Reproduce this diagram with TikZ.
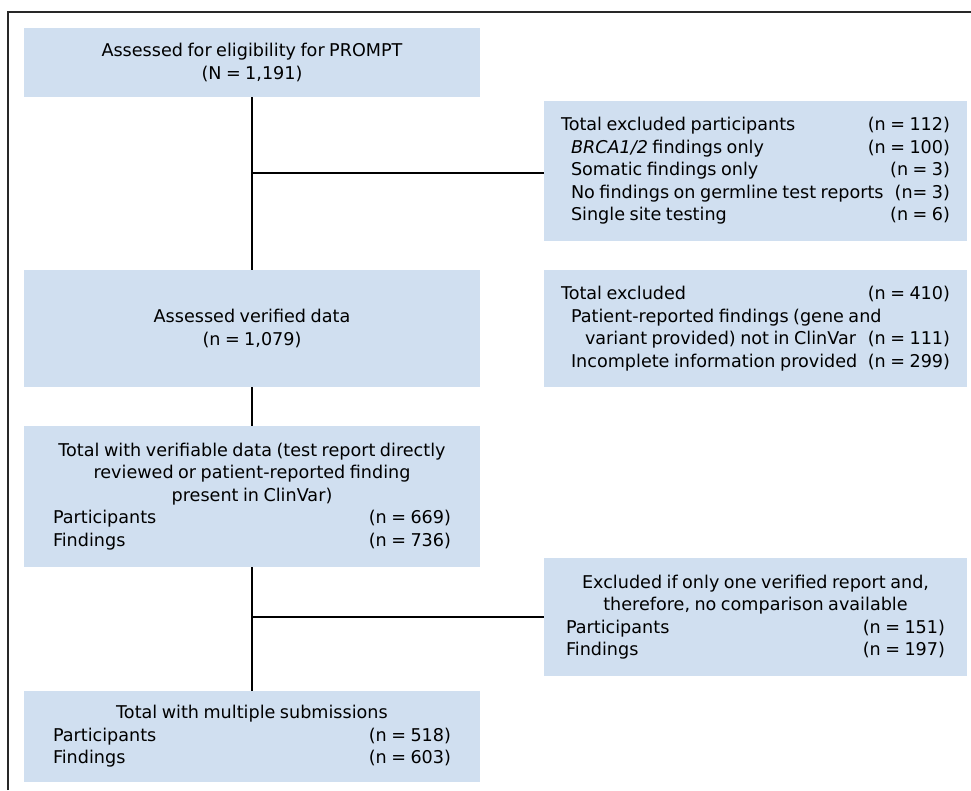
\documentclass[tikz,border=0pt]{standalone}
\usepackage{fontspec}
\setmainfont[WordSpace=0.8]{DejaVu Sans}
\usepackage{tikz}
\definecolor{boxblue}{RGB}{208,223,240}
\definecolor{framegray}{RGB}{40,40,40}
\tikzset{
  flowbox/.style={fill=boxblue, inner sep=0pt, minimum width=456pt, minimum height=#1,
    align=center, font=\fontsize{17.6}{22.5}\selectfont},
  sidebox/.style={fill=boxblue, inner sep=0pt, minimum width=423pt, minimum height=#1,
    align=center, font=\fontsize{17.6}{22.5}\selectfont},
  link/.style={line width=2pt, black},
}
% one line of a box: label on the left, count on the right
\newcommand{\countrow}[3]{\makebox[#1][l]{#2\hfill #3}}

\begin{document}
\begin{tikzpicture}[x=1pt, y=-1pt]
  \useasboundingbox (0,0) rectangle (971,790);
  % frame
  \draw[framegray, line width=1.2pt] (8,790) -- (8,12) -- (971,12);

  % main column
  \node[flowbox=69pt] (assessed) at (252,62.5) {Assessed for eligibility for PROMPT\\(N = 1,191)};
  \node[flowbox=117pt] (verified) at (252,328.5) {Assessed verified data\\(n = 1,079)};
  \node[flowbox=141pt] (verifiable) at (252,496.5) {Total with verifiable data (test report directly\\
    reviewed or patient-reported finding\\
    present in ClinVar)\\
    \countrow{398pt}{Participants}{(n = 669)}\\
    \countrow{398pt}{Findings}{(n = 736)}};
  \node[flowbox=91pt] (multiple) at (252,736.5) {Total with multiple submissions\\
    \countrow{398pt}{Participants}{(n = 518)}\\
    \countrow{398pt}{Findings}{(n = 603)}};

  % side column
  \node[sidebox=140pt] (exclpart) at (755.5,171) {\countrow{389pt}{Total excluded participants}{(n = 112)}\\
    \countrow{389pt}{\hspace*{10pt}\textit{BRCA1/2} findings only}{(n = 100)}\\
    \countrow{389pt}{\hspace*{10pt}Somatic findings only}{(n = 3)}\\
    \countrow{389pt}{\hspace*{10pt}No findings on germline test reports}{(n= 3)}\\
    \countrow{389pt}{\hspace*{10pt}Single site testing}{(n = 6)}};
  \node[sidebox=117pt] (exclvar) at (755.5,328.5) {\countrow{389pt}{Total excluded}{(n = 410)}\\
    \countrow{389pt}{\hspace*{10pt}Patient-reported findings (gene and}{}\\
    \countrow{389pt}{\hspace*{24pt}variant provided) not in ClinVar}{(n = 111)}\\
    \countrow{389pt}{\hspace*{10pt}Incomplete information provided}{(n = 299)}};
  \node[sidebox=118pt] (exclone) at (755.5,617) {Excluded if only one verified report and,\\
    therefore, no comparison available\\
    \countrow{379pt}{Participants}{(n = 151)}\\
    \countrow{379pt}{Findings}{(n = 197)}};

  % connectors
  \draw[link] (assessed.south) -- (verified.north);
  \draw[link] (assessed.south |- 0,173) -- (exclpart.west |- 0,173);
  \draw[link] (verified.south) -- (verifiable.north);
  \draw[link] (verifiable.south) -- (multiple.north);
  \draw[link] (verifiable.south |- exclone.west) -- (exclone.west);
\end{tikzpicture}
\end{document}
